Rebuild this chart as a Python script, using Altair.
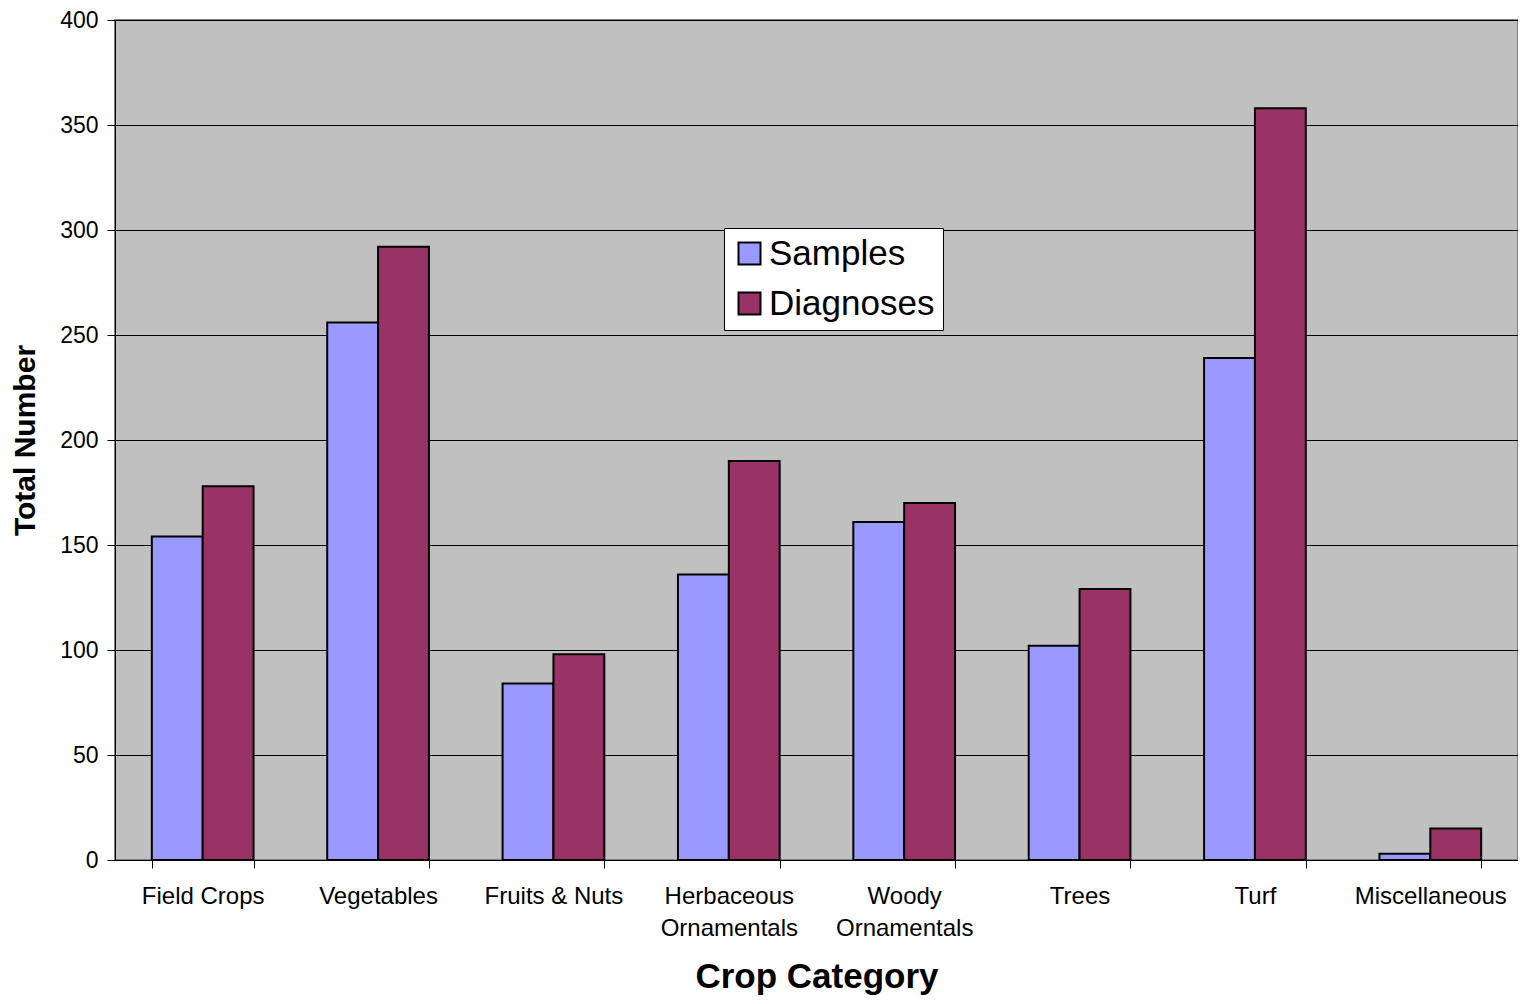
import altair as alt
import pandas as pd

categories = ["Field Crops", "Vegetables", "Fruits & Nuts", "Herbaceous Ornamentals",
              "Woody Ornamentals", "Trees", "Turf", "Miscellaneous"]
samples = [154, 256, 84, 136, 161, 102, 239, 3]
diagnoses = [178, 292, 98, 190, 170, 129, 358, 15]
series = ["Samples", "Diagnoses"]
colors = ["#9999FF", "#993366"]
y_ticks = [0, 50, 100, 150, 200, 250, 300, 350, 400]

rows = []
for c, s, d in zip(categories, samples, diagnoses):
    rows.append({"Category": c, "Series": series[0], "Value": s})
    rows.append({"Category": c, "Series": series[1], "Value": d})
df = pd.DataFrame(rows)

FONT = "Liberation Sans"

chart = alt.Chart(df).mark_bar(stroke="black", strokeWidth=2).encode(
    x=alt.X("Category:N", sort=categories,
            scale=alt.Scale(paddingInner=0.42, paddingOuter=0.21),
            axis=alt.Axis(title="Crop Category", labelAngle=0, tickBand="extent",
                          labelExpr="indexof(datum.label, 'Ornamentals') > 0 ? split(datum.label, ' ') : datum.label",
                          labelFontSize=24, labelLineHeight=32, labelPadding=16,
                          tickSize=8, tickColor="black", domainColor="black",
                          titleFontSize=35, titleFontWeight="bold", titlePadding=19,
                          labelColor="black", titleColor="black", grid=False)),
    xOffset=alt.XOffset("Series:N", sort=series, scale=alt.Scale(paddingInner=0, paddingOuter=0)),
    y=alt.Y("Value:Q", scale=alt.Scale(domain=[0, 400]),
            axis=alt.Axis(title="Total Number", values=y_ticks,
                          labelFontSize=23, labelPadding=9, tickSize=8,
                          tickColor="black", domainColor="black",
                          gridColor="black", gridWidth=1, gridOpacity=1,
                          titleFontSize=30, titleFontWeight="bold", titlePadding=19,
                          labelColor="black", titleColor="black")),
    color=alt.Color("Series:N", sort=series,
                    scale=alt.Scale(domain=series, range=colors),
                    legend=alt.Legend(title=None, orient="none", legendX=609, legendY=208,
                                      fillColor="white", strokeColor="black",
                                      padding=8, symbolType="square", symbolSize=484,
                                      symbolStrokeColor="black", symbolStrokeWidth=2,
                                      labelFontSize=35, labelColor="black",
                                      labelOffset=2, rowPadding=14, labelLimit=400)),
).properties(
    width=1403, height=840,
    autosize=alt.AutoSizeParams(type="none"),
    padding={"left": 107, "top": 12, "right": 0, "bottom": 135},
).configure(
    font=FONT,
).configure_view(
    fill="#C0C0C0", stroke="#808080", strokeWidth=2,
).configure_axis(
    labelFont=FONT, titleFont=FONT,
)

chart.save("out.html", embed_options={"renderer": "svg", "actions": False})
